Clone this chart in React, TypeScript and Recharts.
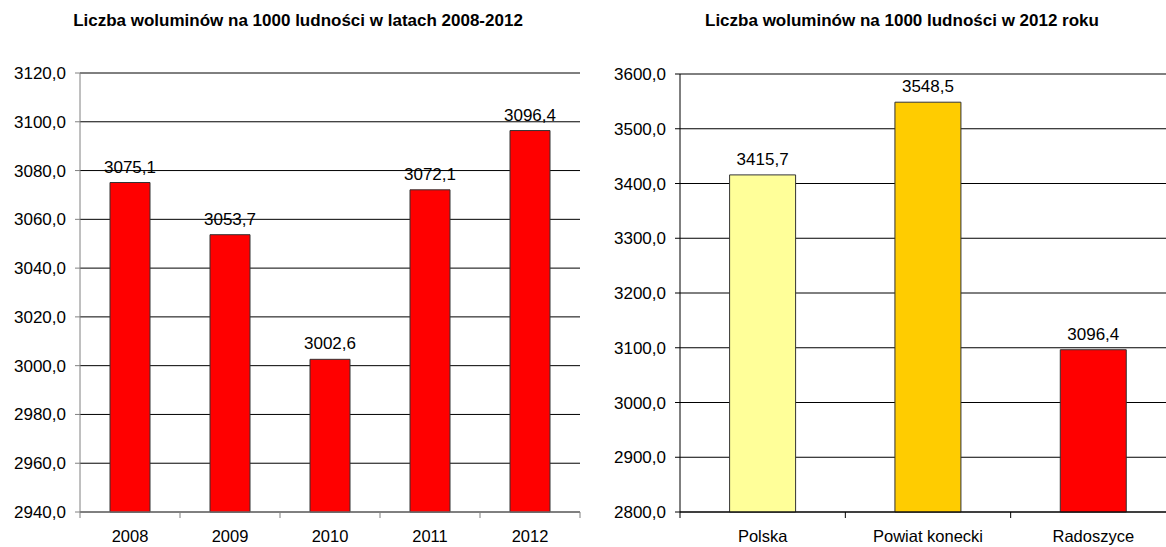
import React from 'react';
import { BarChart, Bar, XAxis, YAxis, CartesianGrid, LabelList, Cell, ReferenceLine } from 'recharts';

const years = ['2008', '2009', '2010', '2011', '2012'];
const volumesByYear = [3075.1, 3053.7, 3002.6, 3072.1, 3096.4];
const yearTicks = [2940, 2960, 2980, 3000, 3020, 3040, 3060, 3080, 3100, 3120];

const regions = ['Polska', 'Powiat konecki', 'Radoszyce'];
const volumes2012 = [3415.7, 3548.5, 3096.4];
const regionColors = ['#FFFF99', '#FFCC00', '#FF0000'];
const regionTicks = [2800, 2900, 3000, 3100, 3200, 3300, 3400, 3500, 3600];

const FONT = '"Liberation Sans", Arial, sans-serif';
const fmt = (v: number) => v.toFixed(1).replace('.', ',');

// category ticks sit between the bars, labels in the middle
const CategoryTick = ({ x, y, payload, index, count, plotWidth, lineColor }: any) => {
  const bw = plotWidth / count;
  return (
    <g>
      <line x1={x - bw / 2} x2={x - bw / 2} y1={y} y2={y + 6} stroke={lineColor} />
      {index === count - 1 && <line x1={x + bw / 2} x2={x + bw / 2} y1={y} y2={y + 6} stroke={lineColor} />}
      <text x={x} y={y + 30} textAnchor="middle" fontSize={16.5} fill="#000" fontFamily={FONT}>
        {payload.value}
      </text>
    </g>
  );
};

const titleStyle: React.CSSProperties = {
  position: 'absolute',
  top: 11,
  width: 600,
  textAlign: 'center',
  fontFamily: FONT,
  fontWeight: 'bold',
  fontSize: 17,
  color: '#000',
  whiteSpace: 'nowrap',
};

export default function App() {
  const yearData = years.map((year, i) => ({ year, value: volumesByYear[i] }));
  const regionData = regions.map((name, i) => ({ name, value: volumes2012[i] }));

  return (
    <div style={{ position: 'relative', width: 1166, height: 547, overflow: 'hidden', background: '#fff' }}>
      <style>{'body{margin:0}'}</style>

      <div style={{ ...titleStyle, left: -2 }}>Liczba woluminów na 1000 ludności w latach 2008-2012</div>
      <div style={{ ...titleStyle, left: 602 }}>Liczba woluminów na 1000 ludności w 2012 roku</div>

      <div style={{ position: 'absolute', left: 0, top: 0 }}>
        <BarChart width={600} height={547} data={yearData} margin={{ top: 73, right: 20, bottom: 5, left: 0 }} barCategoryGap="30%">
          <CartesianGrid vertical={false} stroke="#000" />
          <ReferenceLine y={3120} stroke="#808080" />
          <XAxis
            dataKey="year"
            height={30}
            tickSize={0}
            tickMargin={0}
            axisLine={{ stroke: '#808080' }}
            tickLine={false}
            interval={0}
            tick={(p: any) => <CategoryTick {...p} count={years.length} plotWidth={500} lineColor="#808080" />}
          />
          <YAxis
            width={80}
            domain={[2940, 3120]}
            ticks={yearTicks}
            interval={0}
            tickFormatter={fmt}
            tickSize={5}
            tickMargin={9}
            axisLine={{ stroke: '#808080' }}
            tickLine={{ stroke: '#808080' }}
            tick={{ fill: '#000', fontSize: 17, fontFamily: FONT }}
          />
          <Bar dataKey="value" fill="#FF0000" stroke="#333" strokeWidth={1} isAnimationActive={false}>
            <LabelList dataKey="value" position="top" offset={10} formatter={fmt} fill="#000" fontSize={17} fontFamily={FONT} />
          </Bar>
        </BarChart>
      </div>

      <div style={{ position: 'absolute', left: 600, top: 0 }}>
        <BarChart width={600} height={547} data={regionData} margin={{ top: 74, right: 24, bottom: 5, left: 0 }} barCategoryGap="30%">
          <CartesianGrid vertical={false} stroke="#000" />
          <ReferenceLine y={3600} stroke="#808080" />
          <XAxis
            dataKey="name"
            height={30}
            tickSize={0}
            tickMargin={0}
            axisLine={{ stroke: '#000' }}
            tickLine={false}
            interval={0}
            tick={(p: any) => <CategoryTick {...p} count={regions.length} plotWidth={496} lineColor="#000" />}
          />
          <YAxis
            width={80}
            domain={[2800, 3600]}
            ticks={regionTicks}
            interval={0}
            tickFormatter={fmt}
            tickSize={5}
            tickMargin={9}
            axisLine={{ stroke: '#000' }}
            tickLine={{ stroke: '#000' }}
            tick={{ fill: '#000', fontSize: 17, fontFamily: FONT }}
          />
          <Bar dataKey="value" stroke="#333" strokeWidth={1} isAnimationActive={false}>
            {regionData.map((d, i) => (
              <Cell key={d.name} fill={regionColors[i]} />
            ))}
            <LabelList dataKey="value" position="top" offset={10} formatter={fmt} fill="#000" fontSize={17} fontFamily={FONT} />
          </Bar>
        </BarChart>
      </div>
    </div>
  );
}
